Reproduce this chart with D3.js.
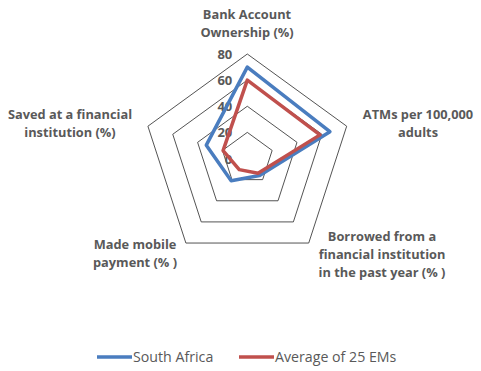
<!DOCTYPE html>
<html><head><meta charset="utf-8">
<script src="https://cdn.jsdelivr.net/npm/d3@7"></script>
<style>body{margin:0;background:#fff}svg{display:block}</style>
</head><body>
<svg id="c" width="481" height="371"></svg>
<script>
const categories = ["Bank Account Ownership (%)", "ATMs per 100,000 adults", "Borrowed from a financial institution in the past year (%)", "Made mobile payment (% )", "Saved at a financial institution (%)"];
const categoryLines = [["Bank Account","Ownership (%)"],["ATMs per 100,000","adults"],["Borrowed from a","financial institution","in the past year (% )"],["Made mobile","payment (% )"],["Saved at a financial","institution (%)"]];
const seriesNames = ["South Africa", "Average of 25 EMs"];
const southAfrica = [70, 66.5, 16, 21, 33];
const average25 = [60, 58.5, 14, 10.5, 19.5];
const tickValues = [0, 20, 40, 60, 80];
const colors = ["#4A7DBF", "#C0504D"];

const svg = d3.select("#c");
const cx = 247.3, cy = 158.5, R = 104.5;
const r = d3.scaleLinear().domain([0, 80]).range([0, R]);
const ang = d3.scaleLinear().domain([0, categories.length]).range([0, 2*Math.PI]);
const pt = (v, i) => [cx + r(v)*Math.sin(ang(i)), cy - r(v)*Math.cos(ang(i))];

// rings
tickValues.filter(t => t > 0).forEach(t => {
  svg.append("polygon")
    .attr("points", categories.map((c,i) => pt(t,i).join(",")).join(" "))
    .attr("fill","none").attr("stroke","#404040").attr("stroke-width",0.9);
});

// tick labels
svg.selectAll("text.tick").data(tickValues).enter().append("text")
  .attr("class","tick")
  .attr("x", cx - 15).attr("y", d => cy - r(d) + 5)
  .attr("text-anchor","end")
  .attr("font-family","'Open Sans', sans-serif").attr("font-weight","bold").attr("font-size","13px")
  .attr("fill","#595959").text(d => d);

// series
const line = d3.line().curve(d3.curveLinearClosed);
[southAfrica, average25].forEach((s, k) => {
  svg.append("path")
    .attr("d", line(s.map((v,i) => pt(v,i))))
    .attr("fill","none").attr("stroke",colors[k]).attr("stroke-width",3.5)
    .attr("stroke-linejoin","round");
});

// category labels
const labelPos = [[247, 19], [418, 119], [382, 241], [135, 249], [70, 119]];
categoryLines.forEach((lines, i) => {
  const t = svg.append("text")
    .attr("text-anchor","middle")
    .attr("font-family","'Open Sans', sans-serif").attr("font-weight","bold").attr("font-size","12.8px")
    .attr("fill","#595959");
  lines.forEach((l, j) => {
    t.append("tspan").attr("x", labelPos[i][0]).attr("y", labelPos[i][1] + j*18).text(l);
  });
});

// legend
const legX = [97, 239];
seriesNames.forEach((n, k) => {
  svg.append("line").attr("x1", legX[k]).attr("x2", legX[k]+35).attr("y1",357).attr("y2",357)
    .attr("stroke", colors[k]).attr("stroke-width",3.5);
  svg.append("text").attr("x", legX[k]+36).attr("y", 362)
    .attr("font-family","'Open Sans', sans-serif").attr("font-size","14.2px")
    .attr("fill","#595959").text(n);
});
</script>
</body></html>
